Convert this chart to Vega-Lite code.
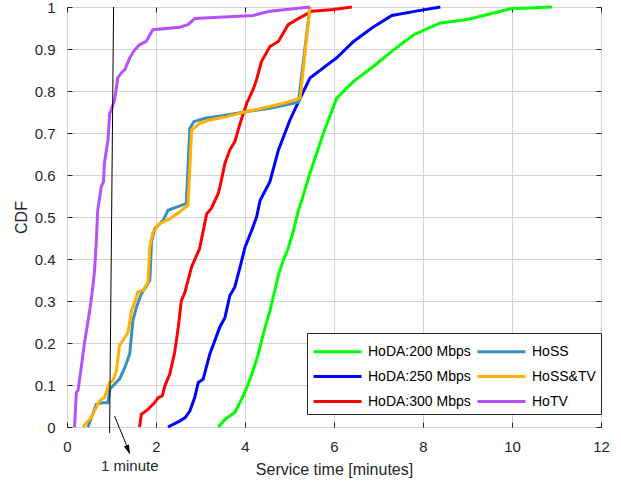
{
  "$schema": "https://vega.github.io/schema/vega-lite/v6.json",
  "autosize": {"type": "none"},
  "width": 534,
  "height": 420,
  "padding": {"left": 67, "top": 7, "right": 20, "bottom": 55},
  "background": "white",
  "config": {
    "font": "Liberation Sans",
    "view": {"stroke": "#262626", "strokeWidth": 1},
    "legend": {
      "labelFont": "Liberation Sans", "labelFontSize": 14, "labelColor": "#000000"
    }
  },
  "datasets": {
    "curves": [
      {"s": "DA200", "x": 3.40, "y": 0}, {"s": "DA200", "x": 3.55, "y": 0.018}, {"s": "DA200", "x": 3.70, "y": 0.030}, {"s": "DA200", "x": 3.77, "y": 0.034},
      {"s": "DA200", "x": 3.96, "y": 0.074}, {"s": "DA200", "x": 4.07, "y": 0.102}, {"s": "DA200", "x": 4.18, "y": 0.134}, {"s": "DA200", "x": 4.30, "y": 0.174},
      {"s": "DA200", "x": 4.41, "y": 0.221}, {"s": "DA200", "x": 4.56, "y": 0.277}, {"s": "DA200", "x": 4.67, "y": 0.325}, {"s": "DA200", "x": 4.75, "y": 0.361},
      {"s": "DA200", "x": 4.86, "y": 0.397}, {"s": "DA200", "x": 4.97, "y": 0.425}, {"s": "DA200", "x": 5.09, "y": 0.468}, {"s": "DA200", "x": 5.20, "y": 0.516},
      {"s": "DA200", "x": 5.24, "y": 0.528}, {"s": "DA200", "x": 5.46, "y": 0.604}, {"s": "DA200", "x": 5.76, "y": 0.699}, {"s": "DA200", "x": 6.06, "y": 0.783},
      {"s": "DA200", "x": 6.44, "y": 0.823}, {"s": "DA200", "x": 6.89, "y": 0.859}, {"s": "DA200", "x": 7.34, "y": 0.898}, {"s": "DA200", "x": 7.79, "y": 0.934},
      {"s": "DA200", "x": 8.39, "y": 0.962}, {"s": "DA200", "x": 8.84, "y": 0.968}, {"s": "DA200", "x": 9.07, "y": 0.972}, {"s": "DA200", "x": 9.97, "y": 0.996},
      {"s": "DA200", "x": 10.9, "y": 1.0},

      {"s": "DA250", "x": 2.27, "y": 0}, {"s": "DA250", "x": 2.53, "y": 0.014}, {"s": "DA250", "x": 2.65, "y": 0.022}, {"s": "DA250", "x": 2.76, "y": 0.038},
      {"s": "DA250", "x": 2.87, "y": 0.070}, {"s": "DA250", "x": 2.95, "y": 0.106}, {"s": "DA250", "x": 3.06, "y": 0.114}, {"s": "DA250", "x": 3.21, "y": 0.174},
      {"s": "DA250", "x": 3.32, "y": 0.205}, {"s": "DA250", "x": 3.43, "y": 0.237}, {"s": "DA250", "x": 3.55, "y": 0.261}, {"s": "DA250", "x": 3.66, "y": 0.313},
      {"s": "DA250", "x": 3.77, "y": 0.333}, {"s": "DA250", "x": 3.89, "y": 0.381}, {"s": "DA250", "x": 4.00, "y": 0.428}, {"s": "DA250", "x": 4.15, "y": 0.468},
      {"s": "DA250", "x": 4.26, "y": 0.500}, {"s": "DA250", "x": 4.34, "y": 0.540}, {"s": "DA250", "x": 4.56, "y": 0.584}, {"s": "DA250", "x": 4.75, "y": 0.659},
      {"s": "DA250", "x": 5.01, "y": 0.731}, {"s": "DA250", "x": 5.24, "y": 0.783}, {"s": "DA250", "x": 5.46, "y": 0.831}, {"s": "DA250", "x": 5.76, "y": 0.855},
      {"s": "DA250", "x": 6.06, "y": 0.879}, {"s": "DA250", "x": 6.44, "y": 0.918}, {"s": "DA250", "x": 6.85, "y": 0.950}, {"s": "DA250", "x": 7.30, "y": 0.980},
      {"s": "DA250", "x": 7.94, "y": 0.992}, {"s": "DA250", "x": 8.39, "y": 1.0},

      {"s": "DA300", "x": 1.63, "y": 0}, {"s": "DA300", "x": 1.67, "y": 0.030}, {"s": "DA300", "x": 1.82, "y": 0.042}, {"s": "DA300", "x": 1.97, "y": 0.058},
      {"s": "DA300", "x": 2.05, "y": 0.070}, {"s": "DA300", "x": 2.14, "y": 0.074}, {"s": "DA300", "x": 2.20, "y": 0.098}, {"s": "DA300", "x": 2.31, "y": 0.126},
      {"s": "DA300", "x": 2.42, "y": 0.178}, {"s": "DA300", "x": 2.50, "y": 0.237}, {"s": "DA300", "x": 2.57, "y": 0.301}, {"s": "DA300", "x": 2.65, "y": 0.321},
      {"s": "DA300", "x": 2.72, "y": 0.349}, {"s": "DA300", "x": 2.80, "y": 0.381}, {"s": "DA300", "x": 2.91, "y": 0.408}, {"s": "DA300", "x": 2.98, "y": 0.425},
      {"s": "DA300", "x": 3.14, "y": 0.508}, {"s": "DA300", "x": 3.21, "y": 0.516}, {"s": "DA300", "x": 3.25, "y": 0.522}, {"s": "DA300", "x": 3.40, "y": 0.556},
      {"s": "DA300", "x": 3.47, "y": 0.588}, {"s": "DA300", "x": 3.55, "y": 0.628}, {"s": "DA300", "x": 3.66, "y": 0.660}, {"s": "DA300", "x": 3.77, "y": 0.679},
      {"s": "DA300", "x": 3.89, "y": 0.723}, {"s": "DA300", "x": 4.04, "y": 0.771}, {"s": "DA300", "x": 4.18, "y": 0.803}, {"s": "DA300", "x": 4.26, "y": 0.827},
      {"s": "DA300", "x": 4.37, "y": 0.870}, {"s": "DA300", "x": 4.56, "y": 0.906}, {"s": "DA300", "x": 4.75, "y": 0.918}, {"s": "DA300", "x": 4.97, "y": 0.958},
      {"s": "DA300", "x": 5.16, "y": 0.970}, {"s": "DA300", "x": 5.50, "y": 0.990}, {"s": "DA300", "x": 5.99, "y": 0.994}, {"s": "DA300", "x": 6.40, "y": 1.0},

      {"s": "SS", "x": 0.47, "y": 0}, {"s": "SS", "x": 0.66, "y": 0.054}, {"s": "SS", "x": 0.81, "y": 0.058}, {"s": "SS", "x": 0.92, "y": 0.058},
      {"s": "SS", "x": 0.96, "y": 0.090}, {"s": "SS", "x": 1.07, "y": 0.102}, {"s": "SS", "x": 1.18, "y": 0.114}, {"s": "SS", "x": 1.30, "y": 0.142},
      {"s": "SS", "x": 1.41, "y": 0.174}, {"s": "SS", "x": 1.48, "y": 0.253}, {"s": "SS", "x": 1.56, "y": 0.285}, {"s": "SS", "x": 1.67, "y": 0.317},
      {"s": "SS", "x": 1.86, "y": 0.349}, {"s": "SS", "x": 1.90, "y": 0.440}, {"s": "SS", "x": 1.97, "y": 0.472}, {"s": "SS", "x": 2.16, "y": 0.492},
      {"s": "SS", "x": 2.27, "y": 0.516}, {"s": "SS", "x": 2.68, "y": 0.532}, {"s": "SS", "x": 2.76, "y": 0.711}, {"s": "SS", "x": 2.85, "y": 0.727},
      {"s": "SS", "x": 3.10, "y": 0.735}, {"s": "SS", "x": 3.60, "y": 0.743}, {"s": "SS", "x": 4.05, "y": 0.751}, {"s": "SS", "x": 4.56, "y": 0.759},
      {"s": "SS", "x": 5.20, "y": 0.773}, {"s": "SS", "x": 5.46, "y": 1.0},

      {"s": "SSTV", "x": 0.36, "y": 0}, {"s": "SSTV", "x": 0.54, "y": 0.022}, {"s": "SSTV", "x": 0.73, "y": 0.062}, {"s": "SSTV", "x": 0.84, "y": 0.070},
      {"s": "SSTV", "x": 0.96, "y": 0.106}, {"s": "SSTV", "x": 1.03, "y": 0.110}, {"s": "SSTV", "x": 1.11, "y": 0.134}, {"s": "SSTV", "x": 1.18, "y": 0.194},
      {"s": "SSTV", "x": 1.30, "y": 0.213}, {"s": "SSTV", "x": 1.37, "y": 0.225}, {"s": "SSTV", "x": 1.45, "y": 0.277}, {"s": "SSTV", "x": 1.52, "y": 0.297},
      {"s": "SSTV", "x": 1.59, "y": 0.321}, {"s": "SSTV", "x": 1.71, "y": 0.325}, {"s": "SSTV", "x": 1.82, "y": 0.345}, {"s": "SSTV", "x": 1.86, "y": 0.428},
      {"s": "SSTV", "x": 1.93, "y": 0.464}, {"s": "SSTV", "x": 2.08, "y": 0.484}, {"s": "SSTV", "x": 2.31, "y": 0.496}, {"s": "SSTV", "x": 2.53, "y": 0.512},
      {"s": "SSTV", "x": 2.72, "y": 0.528}, {"s": "SSTV", "x": 2.80, "y": 0.707}, {"s": "SSTV", "x": 2.98, "y": 0.723}, {"s": "SSTV", "x": 3.21, "y": 0.731},
      {"s": "SSTV", "x": 3.59, "y": 0.739}, {"s": "SSTV", "x": 4.04, "y": 0.751}, {"s": "SSTV", "x": 4.56, "y": 0.763}, {"s": "SSTV", "x": 5.01, "y": 0.775},
      {"s": "SSTV", "x": 5.24, "y": 0.783}, {"s": "SSTV", "x": 5.46, "y": 1.0},

      {"s": "TV", "x": 0.17, "y": 0}, {"s": "TV", "x": 0.21, "y": 0.082}, {"s": "TV", "x": 0.25, "y": 0.088}, {"s": "TV", "x": 0.32, "y": 0.142},
      {"s": "TV", "x": 0.39, "y": 0.198}, {"s": "TV", "x": 0.51, "y": 0.277}, {"s": "TV", "x": 0.58, "y": 0.333}, {"s": "TV", "x": 0.62, "y": 0.373},
      {"s": "TV", "x": 0.66, "y": 0.444}, {"s": "TV", "x": 0.69, "y": 0.516}, {"s": "TV", "x": 0.77, "y": 0.572}, {"s": "TV", "x": 0.82, "y": 0.584},
      {"s": "TV", "x": 0.84, "y": 0.628}, {"s": "TV", "x": 0.92, "y": 0.683}, {"s": "TV", "x": 0.96, "y": 0.747}, {"s": "TV", "x": 0.995, "y": 0.755},
      {"s": "TV", "x": 1.07, "y": 0.779}, {"s": "TV", "x": 1.14, "y": 0.831}, {"s": "TV", "x": 1.22, "y": 0.843}, {"s": "TV", "x": 1.30, "y": 0.851},
      {"s": "TV", "x": 1.41, "y": 0.879}, {"s": "TV", "x": 1.52, "y": 0.898}, {"s": "TV", "x": 1.63, "y": 0.910}, {"s": "TV", "x": 1.78, "y": 0.918},
      {"s": "TV", "x": 1.93, "y": 0.946}, {"s": "TV", "x": 2.53, "y": 0.952}, {"s": "TV", "x": 2.72, "y": 0.958}, {"s": "TV", "x": 2.87, "y": 0.9725},
      {"s": "TV", "x": 4.18, "y": 0.98}, {"s": "TV", "x": 4.56, "y": 0.99}, {"s": "TV", "x": 5.46, "y": 1.0}
    ],
    "refline": [{"x": 1.047, "y": 1.0}, {"x": 0.957, "y": -0.014}],
    "arrow": [{"x": 1.07, "y": 0.026, "x2": 1.40, "y2": -0.06, "hx": 1.37, "hy": -0.053, "label": "1 minute", "tx": 1.41, "ty": -0.093}]
  },
  "layer": [
    {
      "layer": [
        {
          "data": {"name": "curves"},
          "mark": {"type": "line", "strokeWidth": 3, "clip": false},
          "encoding": {
            "x": {"field": "x", "type": "quantitative", "title": "Service time [minutes]", "scale": {"domain": [0, 12], "nice": false, "zero": false},
              "axis": {"title": "Service time [minutes]", "values": [0, 2, 4, 6, 8, 10, 12], "grid": true, "gridColor": "#d4d4d4", "tickColor": "#262626", "tickSize": -5, "labelPadding": 17, "labelFlush": false, "titlePadding": 7, "domain": false,
                "labelFont": "Liberation Sans", "labelFontSize": 15, "labelColor": "#262626", "titleFont": "Liberation Sans", "titleFontSize": 16, "titleFontWeight": "normal", "titleColor": "#262626"}},
            "y": {"field": "y", "type": "quantitative", "title": "CDF", "scale": {"domain": [0, 1], "nice": false, "zero": false},
              "axis": {"title": "CDF", "values": [0, 0.1, 0.2, 0.3, 0.4, 0.5, 0.6, 0.7, 0.8, 0.9, 1], "format": "~g", "grid": true, "gridColor": "#d4d4d4", "tickColor": "#262626", "tickSize": -5, "labelPadding": 17, "labelFlush": false, "titlePadding": 5, "domain": false,
                "labelFont": "Liberation Sans", "labelFontSize": 15, "labelColor": "#262626", "titleFont": "Liberation Sans", "titleFontSize": 16, "titleFontWeight": "normal", "titleColor": "#262626"}},
            "color": {"field": "s", "type": "nominal",
              "scale": {"domain": ["DA200", "SS", "DA250", "SSTV", "DA300", "TV"],
                        "range": ["#00ff00", "#3a8fbc", "#0000ff", "#ffb000", "#ff0000", "#b550ff"]},
              "legend": {"title": null, "orient": "none", "legendX": 240, "legendY": 326, "columns": 2,
                "direction": "horizontal",
                "symbolType": "M-1,0L3,0", "symbolSize": 576, "symbolStrokeWidth": 3, "symbolOpacity": 1,
                "labelExpr": "{'DA200':'HoDA:200 Mbps','DA250':'HoDA:250 Mbps','DA300':'HoDA:300 Mbps','SS':'HoSS','SSTV':'HoSS&TV','TV':'HoTV'}[datum.value]",
                "fillColor": "white", "strokeColor": "#262626", "padding": 5, "rowPadding": 4, "columnPadding": 0, "labelOffset": 29}},
            "order": {"field": "x", "type": "quantitative"}
          }
        },
        {
          "data": {"name": "arrow"},
          "mark": {"type": "rule", "color": "black", "strokeWidth": 1, "clip": false},
          "encoding": {
            "x": {"field": "x", "type": "quantitative", "title": "Service time [minutes]"},
            "y": {"field": "y", "type": "quantitative", "title": "CDF"},
            "x2": {"field": "x2"},
            "y2": {"field": "y2"}
          }
        },
        {
          "data": {"name": "arrow"},
          "mark": {"type": "point", "shape": "M0,1L-0.45,-0.7L0.45,-0.7Z", "filled": true, "color": "black", "opacity": 1, "size": 140, "angle": 338, "clip": false},
          "encoding": {
            "x": {"field": "hx", "type": "quantitative", "title": "Service time [minutes]"},
            "y": {"field": "hy", "type": "quantitative", "title": "CDF"}
          }
        },
        {
          "data": {"name": "arrow"},
          "mark": {"type": "text", "fontSize": 15, "font": "Liberation Sans", "color": "#262626", "baseline": "middle", "align": "center", "clip": false},
          "encoding": {
            "x": {"field": "tx", "type": "quantitative", "title": "Service time [minutes]"},
            "y": {"field": "ty", "type": "quantitative", "title": "CDF"},
            "text": {"field": "label"}
          }
        }
      ]
    },
    {
      "data": {"name": "refline"},
      "mark": {"type": "line", "color": "black", "strokeWidth": 1, "clip": false},
      "encoding": {
        "x": {"field": "x", "type": "quantitative", "title": null,
          "axis": {"orient": "top", "labels": false, "title": null, "values": [0, 2, 4, 6, 8, 10, 12], "tickColor": "#262626", "tickSize": -5, "grid": false, "domain": false}},
        "y": {"field": "y", "type": "quantitative", "title": null,
          "axis": {"orient": "right", "labels": false, "title": null, "values": [0, 0.1, 0.2, 0.3, 0.4, 0.5, 0.6, 0.7, 0.8, 0.9, 1], "tickColor": "#262626", "tickSize": -5, "grid": false, "domain": false}}
      }
    }
  ],
  "resolve": {"axis": {"x": "independent", "y": "independent"}}
}
